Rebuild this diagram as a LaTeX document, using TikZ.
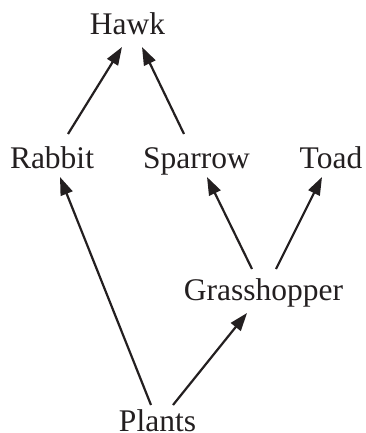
\documentclass[tikz,border=0pt]{standalone}
\usepackage{fontspec}
\setmainfont{Liberation Serif}
\usetikzlibrary{arrows.meta}
\definecolor{ink}{HTML}{231F20}
\begin{document}
\begin{tikzpicture}[x=1pt,y=-1pt,
  lbl/.style={anchor=base,inner sep=0pt,text=ink,font=\fontsize{31.5}{36}\selectfont},
  feeds/.style={draw=ink,line width=2.2pt,-{Triangle[length=18pt,width=12.5pt]}}]
  \useasboundingbox (0,0) rectangle (365,433);
  % organisms, placed on their baselines
  \node[lbl] (hawk)    at (127.5,35)  {Hawk};
  \node[lbl] (rabbit)  at (52,168)    {Rabbit};
  \node[lbl] (sparrow) at (196.5,168) {Sparrow};
  \node[lbl] (toad)    at (331,168)   {Toad};
  \node[lbl] (grass)   at (263.5,300) {Grasshopper};
  \node[lbl] (plants)  at (157.5,431) {Plants};
  % energy flow
  \draw[feeds] ([shift={(16,-34)}]rabbit.base)    -- ([shift={(-5.5,12)}]hawk.base);
  \draw[feeds] ([shift={(-12.5,-34)}]sparrow.base) -- ([shift={(14.5,12)}]hawk.base);
  \draw[feeds] ([shift={(-6.5,-26)}]plants.base)  -- ([shift={(8,9)}]rabbit.base);
  \draw[feeds] ([shift={(-11.5,-31)}]grass.base)  -- ([shift={(10.5,9)}]sparrow.base);
  \draw[feeds] ([shift={(12.5,-31)}]grass.base)   -- ([shift={(-9,9)}]toad.base);
  \draw[feeds] ([shift={(15.5,-26)}]plants.base)  -- ([shift={(-16.5,13)}]grass.base);
\end{tikzpicture}
\end{document}
